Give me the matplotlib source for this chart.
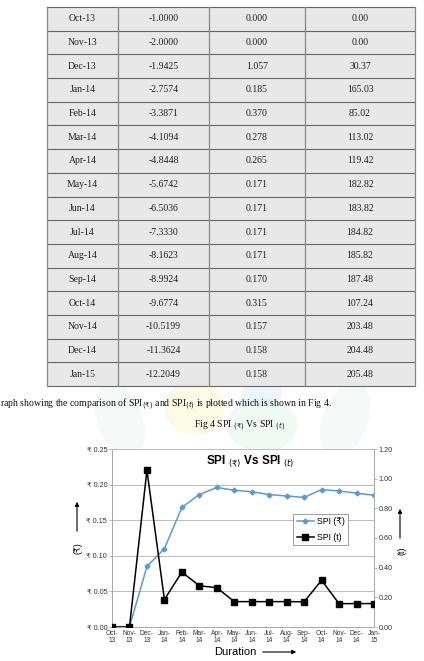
import numpy as np
import matplotlib
matplotlib.use("Agg")
import matplotlib.pyplot as plt
from matplotlib.patches import Rectangle, Ellipse

# Table data
months = ["Oct-13", "Nov-13", "Dec-13", "Jan-14", "Feb-14", "Mar-14", "Apr-14", "May-14",
          "Jun-14", "Jul-14", "Aug-14", "Sep-14", "Oct-14", "Nov-14", "Dec-14", "Jan-15"]
col_b = ["-1.0000", "-2.0000", "-1.9425", "-2.7574", "-3.3871", "-4.1094", "-4.8448", "-5.6742",
         "-6.5036", "-7.3330", "-8.1623", "-8.9924", "-9.6774", "-10.5199", "-11.3624", "-12.2049"]
spi_t = [0.000, 0.000, 1.057, 0.185, 0.370, 0.278, 0.265, 0.171,
         0.171, 0.171, 0.171, 0.170, 0.315, 0.157, 0.158, 0.158]
col_d = ["0.00", "0.00", "30.37", "165.03", "85.02", "113.02", "119.42", "182.82",
         "183.82", "184.82", "185.82", "187.48", "107.24", "203.48", "204.48", "205.48"]

# chart series (SPI in rupees)
spi_rs = [0.000, 0.000, 0.085, 0.110, 0.168, 0.186, 0.196, 0.192,
          0.190, 0.186, 0.184, 0.182, 0.193, 0.191, 0.188, 0.185]
x_labels = ["Oct-\n13", "Nov-\n13", "Dec-\n13", "Jan-\n14", "Feb-\n14", "Mar-\n14", "Apr-\n14", "May-\n14",
            "Jun-\n14", "Jul-\n14", "Aug-\n14", "Sep-\n14", "Oct-\n14", "Nov-\n14", "Dec-\n14", "Jan-\n15"]

W, H = 424, 661
fig = plt.figure(figsize=(W/100, H/100), dpi=100)
bg = fig.add_axes([0, 0, 1, 1])
bg.set_xlim(0, W)
bg.set_ylim(H, 0)
bg.axis("off")

serif = ["Liberation Serif", "DejaVu Serif", "DejaVu Sans"]
sans = ["Liberation Sans", "DejaVu Sans"]

# faint watermark behind the caption
bg.add_patch(Ellipse((120, 420), 45, 80, angle=-20, color="#9aa3a0", alpha=0.07, lw=0))
bg.add_patch(Ellipse((345, 420), 45, 80, angle=20, color="#9aa3a0", alpha=0.07, lw=0))
bg.add_patch(Ellipse((195, 408), 60, 55, color="#f3e04a", alpha=0.14, lw=0))
bg.add_patch(Ellipse((262, 392), 40, 30, color="#6f9fd8", alpha=0.1, lw=0))
bg.add_patch(Ellipse((262, 425), 70, 55, color="#8fd6a8", alpha=0.12, lw=0))

# table
col_x = [47, 118, 209, 305, 415]
top, bottom = 7, 386
rh = (bottom - top) / len(months)
bg.add_patch(Rectangle((col_x[0], top), col_x[-1] - col_x[0], bottom - top,
                       facecolor="#e8e8e8", edgecolor="none"))
for i in range(len(months) + 1):
    y = top + i * rh
    bg.plot([col_x[0], col_x[-1]], [y, y], color="#666666", lw=0.8)
for x in col_x:
    bg.plot([x, x], [top, bottom], color="#888888", lw=0.9)
for i, row in enumerate(zip(months, col_b, [f"{v:.3f}" for v in spi_t], col_d)):
    y = top + (i + 0.5) * rh
    for j, txt in enumerate(row):
        bg.text((col_x[j] + col_x[j+1]) / 2, y, txt, ha="center", va="center",
                fontsize=7, family=serif, color="#222222")

# sentence and caption
bg.text(0, 404, r"raph showing the comparison of SPI$_{(₹)}$ and SPI$_{(t)}$ is plotted which is shown in Fig 4.",
        fontsize=7, family=serif, va="center", ha="left", color="#111111")
bg.text(240, 426, r"Fig 4 SPI $_{(₹)}$ Vs SPI $_{(t)}$", fontsize=7, family=serif,
        va="center", ha="center", color="#111111")

# chart
ax = fig.add_axes([112/W, 1 - 627/H, (374 - 112)/W, (627 - 449)/H])
ax2 = ax.twinx()
x = np.arange(len(spi_rs))
ax.plot(x, spi_rs, color="#5b9bd5", marker="D", markersize=2.5, lw=1.1, label="SPI (₹)", zorder=3)
ax2.plot(x, spi_t, color="black", marker="s", markersize=4, lw=1.1, label="SPI (t)", zorder=3)

ax.set_xlim(0, len(x) - 1)
ax.set_ylim(0, 0.25)
ax2.set_ylim(0, 1.2)
ax.set_yticks(np.arange(0, 0.2501, 0.05))
ax.set_yticklabels([f"₹ {v:.2f}" for v in np.arange(0, 0.2501, 0.05)], family=sans, fontsize=5.2, color="#333333")
ax2.set_yticks(np.arange(0, 1.2001, 0.2))
ax2.set_yticklabels([f"{v:.2f}" for v in np.arange(0, 1.2001, 0.2)], family=sans, fontsize=5.2, color="#333333")
ax.set_xticks(x)
ax.set_xticklabels(x_labels, family=sans, fontsize=4.8, color="#333333", linespacing=1.1)
ax.grid(axis="y", color="#bbbbbb", lw=0.7)
ax.set_axisbelow(True)
for a in (ax, ax2):
    a.spines["top"].set_visible(False)
    for s in ("left", "right", "bottom"):
        a.spines[s].set_color("#aaaaaa")
        a.spines[s].set_linewidth(0.7)
    a.tick_params(axis="both", length=2, width=0.6, color="#aaaaaa", pad=1.5)
ax.tick_params(axis="x", length=0, pad=2)

ax.text((250 - 112)/262, 0.93, "SPI $_{(₹)}$ Vs SPI $_{(t)}$", transform=ax.transAxes, ha="center", va="center",
        fontsize=8.5, fontweight="bold", family=sans)

h1, l1 = ax.get_legend_handles_labels()
h2, l2 = ax2.get_legend_handles_labels()
leg = ax2.legend(h1 + h2, l1 + l2, loc="upper left", bbox_to_anchor=((293 - 112)/262, 1 - (514 - 449)/178),
                 prop={"family": sans, "size": 6.3}, frameon=True, fancybox=False, edgecolor="#888888",
                 handlelength=2.0, handletextpad=0.3, borderpad=0.4, labelspacing=0.7, borderaxespad=0)
leg.get_frame().set_linewidth(0.7)

# axis labels with arrows
bg.text(78, 548, "(₹)", rotation=90, ha="center", va="center", fontsize=6.5, family=sans)
bg.annotate("", xy=(77, 499), xytext=(77, 534),
            arrowprops=dict(arrowstyle="-|>", color="black", lw=0.8, mutation_scale=6))
bg.text(402, 551, "(t)", rotation=90, ha="center", va="center", fontsize=6.5, family=sans)
bg.annotate("", xy=(400, 506), xytext=(400, 541),
            arrowprops=dict(arrowstyle="-|>", color="black", lw=0.8, mutation_scale=6))
bg.text(235, 652, "Duration", ha="center", va="center", fontsize=8, family=sans)
bg.annotate("", xy=(299, 652), xytext=(260, 652),
            arrowprops=dict(arrowstyle="-|>", color="black", lw=0.8, mutation_scale=6))

fig.savefig("out.png", dpi=100)
